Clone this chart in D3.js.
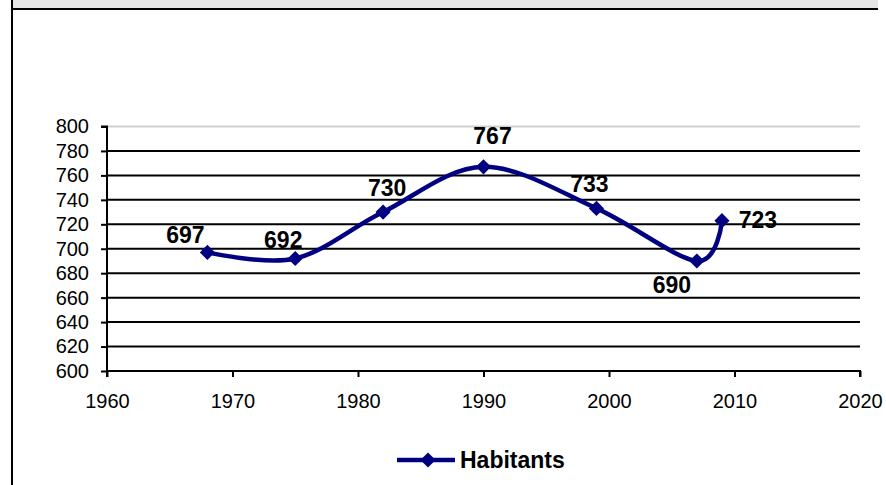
<!DOCTYPE html>
<html><head><meta charset="utf-8">
<script src="https://cdn.jsdelivr.net/npm/d3@7"></script>
<style>body{margin:0;background:#fff}svg{display:block}text{font-family:"Liberation Sans",Arial,Helvetica,sans-serif}</style>
</head><body>
<svg id="c" width="886" height="485"></svg>
<script>
// ---- data ----
const years = [1968, 1975, 1982, 1990, 1999, 2007, 2009];
const habitants = [697, 692, 730, 767, 733, 690, 723];
const seriesName = "Habitants";
const yTicks = [600, 620, 640, 660, 680, 700, 720, 740, 760, 780, 800];
const xTicks = [1960, 1970, 1980, 1990, 2000, 2010, 2020];
// label placement offsets (px) relative to each point
const labelOffsets = [[-22, -9], [-12, -11], [4, -16], [9, -23], [-7, -16], [-25, 32], [36, 7]];

const svg = d3.select("#c");
const W = 886, H = 485;
const x = d3.scaleLinear().domain([1960, 2020]).range([107, 860]);
const y = d3.scaleLinear().domain([600, 800]).range([371, 126.5]);
const navy = "#000080";
const ff = '"Liberation Sans",Arial,sans-serif';

// frame
svg.append("rect").attr("x", 13).attr("y", 0).attr("width", 865).attr("height", 8).attr("fill", "#e6e6e6");
svg.append("line").attr("x1", 11).attr("x2", 878).attr("y1", 9).attr("y2", 9).attr("stroke", "#000").attr("stroke-width", 2);
svg.append("line").attr("x1", 12).attr("x2", 12).attr("y1", 0).attr("y2", H).attr("stroke", "#000").attr("stroke-width", 2);

// gridlines
const g = svg.append("g");
g.selectAll("line.grid").data(yTicks.filter(v => v > 600)).join("line")
  .attr("class", "grid")
  .attr("x1", x(1960)).attr("x2", x(2020))
  .attr("y1", d => y(d)).attr("y2", d => y(d))
  .attr("stroke", d => d === 800 ? "#cfcfcf" : "#000")
  .attr("stroke-width", 2);

// y axis
const yAxis = d3.axisLeft(y).tickValues(yTicks).tickSize(6).tickPadding(12).tickFormat(d3.format("d"));
const ya = svg.append("g").attr("transform", `translate(${x(1960)},0)`).call(yAxis);
ya.select(".domain").attr("stroke", "#000").attr("stroke-width", 2).attr("d", `M-6,${y(800)}H0V${y(600) + 6}`);
ya.selectAll(".tick line").attr("stroke", "#000").attr("stroke-width", 2);
ya.selectAll(".tick text").attr("font-size", 20).attr("fill", "#000").style("font-family", ff);

// x axis
const xAxis = d3.axisBottom(x).tickValues(xTicks).tickSize(6).tickPadding(17).tickFormat(d3.format("d"));
const xa = svg.append("g").attr("transform", `translate(0,${y(600)})`).call(xAxis);
xa.select(".domain").attr("stroke", "#000").attr("stroke-width", 2).attr("d", `M${x(1960)},0H${x(2020)}V6`);
xa.selectAll(".tick line").attr("stroke", "#000").attr("stroke-width", 2);
xa.selectAll(".tick text").attr("font-size", 20).attr("fill", "#000").style("font-family", ff);

// series
const pts = years.map((yr, i) => ({ yr, v: habitants[i], i }));
const line = d3.line().x(d => x(d.yr)).y(d => y(d.v)).curve(d3.curveCatmullRom.alpha(0));
svg.append("path").datum(pts).attr("d", line).attr("fill", "none").attr("stroke", navy).attr("stroke-width", 4.5).attr("stroke-linejoin", "round");

const diamond = d3.symbol(d3.symbolSquare, 115);
svg.selectAll("path.mk").data(pts).join("path").attr("class", "mk")
  .attr("d", diamond)
  .attr("transform", d => `translate(${x(d.yr)},${y(d.v)}) rotate(45)`)
  .attr("fill", navy);

svg.selectAll("text.lbl").data(pts).join("text").attr("class", "lbl")
  .attr("x", d => x(d.yr) + labelOffsets[d.i][0])
  .attr("y", d => y(d.v) + labelOffsets[d.i][1])
  .attr("text-anchor", "middle")
  .attr("font-size", 23).attr("font-weight", "bold").attr("fill", "#000")
  .text(d => d.v);

// legend
const lg = svg.append("g");
lg.append("line").attr("x1", 397).attr("x2", 455).attr("y1", 460).attr("y2", 460).attr("stroke", navy).attr("stroke-width", 4.5);
lg.append("path").attr("d", diamond).attr("transform", "translate(428,460) rotate(45)").attr("fill", navy);
lg.append("text").attr("x", 460).attr("y", 468).attr("font-size", 23).attr("font-weight", "bold").attr("fill", "#000").text(seriesName);
</script>
</body></html>
